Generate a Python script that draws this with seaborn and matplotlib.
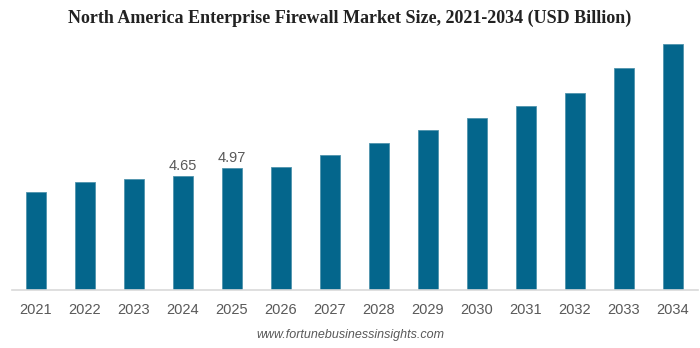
import matplotlib
matplotlib.use("Agg")
import matplotlib.pyplot as plt
import seaborn as sns
import pandas as pd

years = ["2021", "2022", "2023", "2024", "2025", "2026", "2027", "2028", "2029", "2030", "2031", "2032", "2033", "2034"]
values = [3.99, 4.40, 4.51, 4.65, 4.97, 5.01, 5.49, 5.99, 6.51, 7.00, 7.50, 8.01, 9.01, 10.00]
labeled_years = ["2024", "2025"]

sns.set_theme(style="white")
plt.rcParams['font.family'] = ['Liberation Sans', 'DejaVu Sans']

df = pd.DataFrame({"year": years, "value": values})

fig = plt.figure(figsize=(7, 3.48), dpi=100)
ax = fig.add_axes([11.5/700, 0.166, (697.5-11.5)/700, 0.909-0.166])
sns.barplot(data=df, x="year", y="value", color="#04668C", width=0.41,
            saturation=1, edgecolor="#4f93ad", linewidth=0.6, ax=ax)
ax.set_ylim(0, 10.5)
ax.set_xlim(-0.5, len(years) - 0.5)
ax.set_xlabel("")
ax.set_ylabel("")
ax.set_yticks([])
sns.despine(ax=ax, left=True, top=True, right=True)
ax.spines['bottom'].set_color('#d9d9d9')
ax.spines['bottom'].set_linewidth(1.2)
ax.tick_params(axis='x', length=0, pad=9, labelsize=10.5, labelcolor='#595959')

for i, (y, v) in enumerate(zip(years, values)):
    if y in labeled_years:
        ax.text(i, v + 0.12, f"{v:.2f}", ha='center', va='bottom', fontsize=10.5, color='#595959')

fig.text(0.5, 1 - 18/348, "North America Enterprise Firewall Market Size, 2021-2034 (USD Billion)",
         ha='center', va='center', fontsize=13, fontweight='bold',
         family=['Liberation Serif', 'DejaVu Serif'], color='#222222')
fig.text(0.5, 1 - 335/348, "www.fortunebusinessinsights.com", ha='center', va='center',
         fontsize=9, style='italic', color='#595959')

fig.savefig("out.png", dpi=100)
